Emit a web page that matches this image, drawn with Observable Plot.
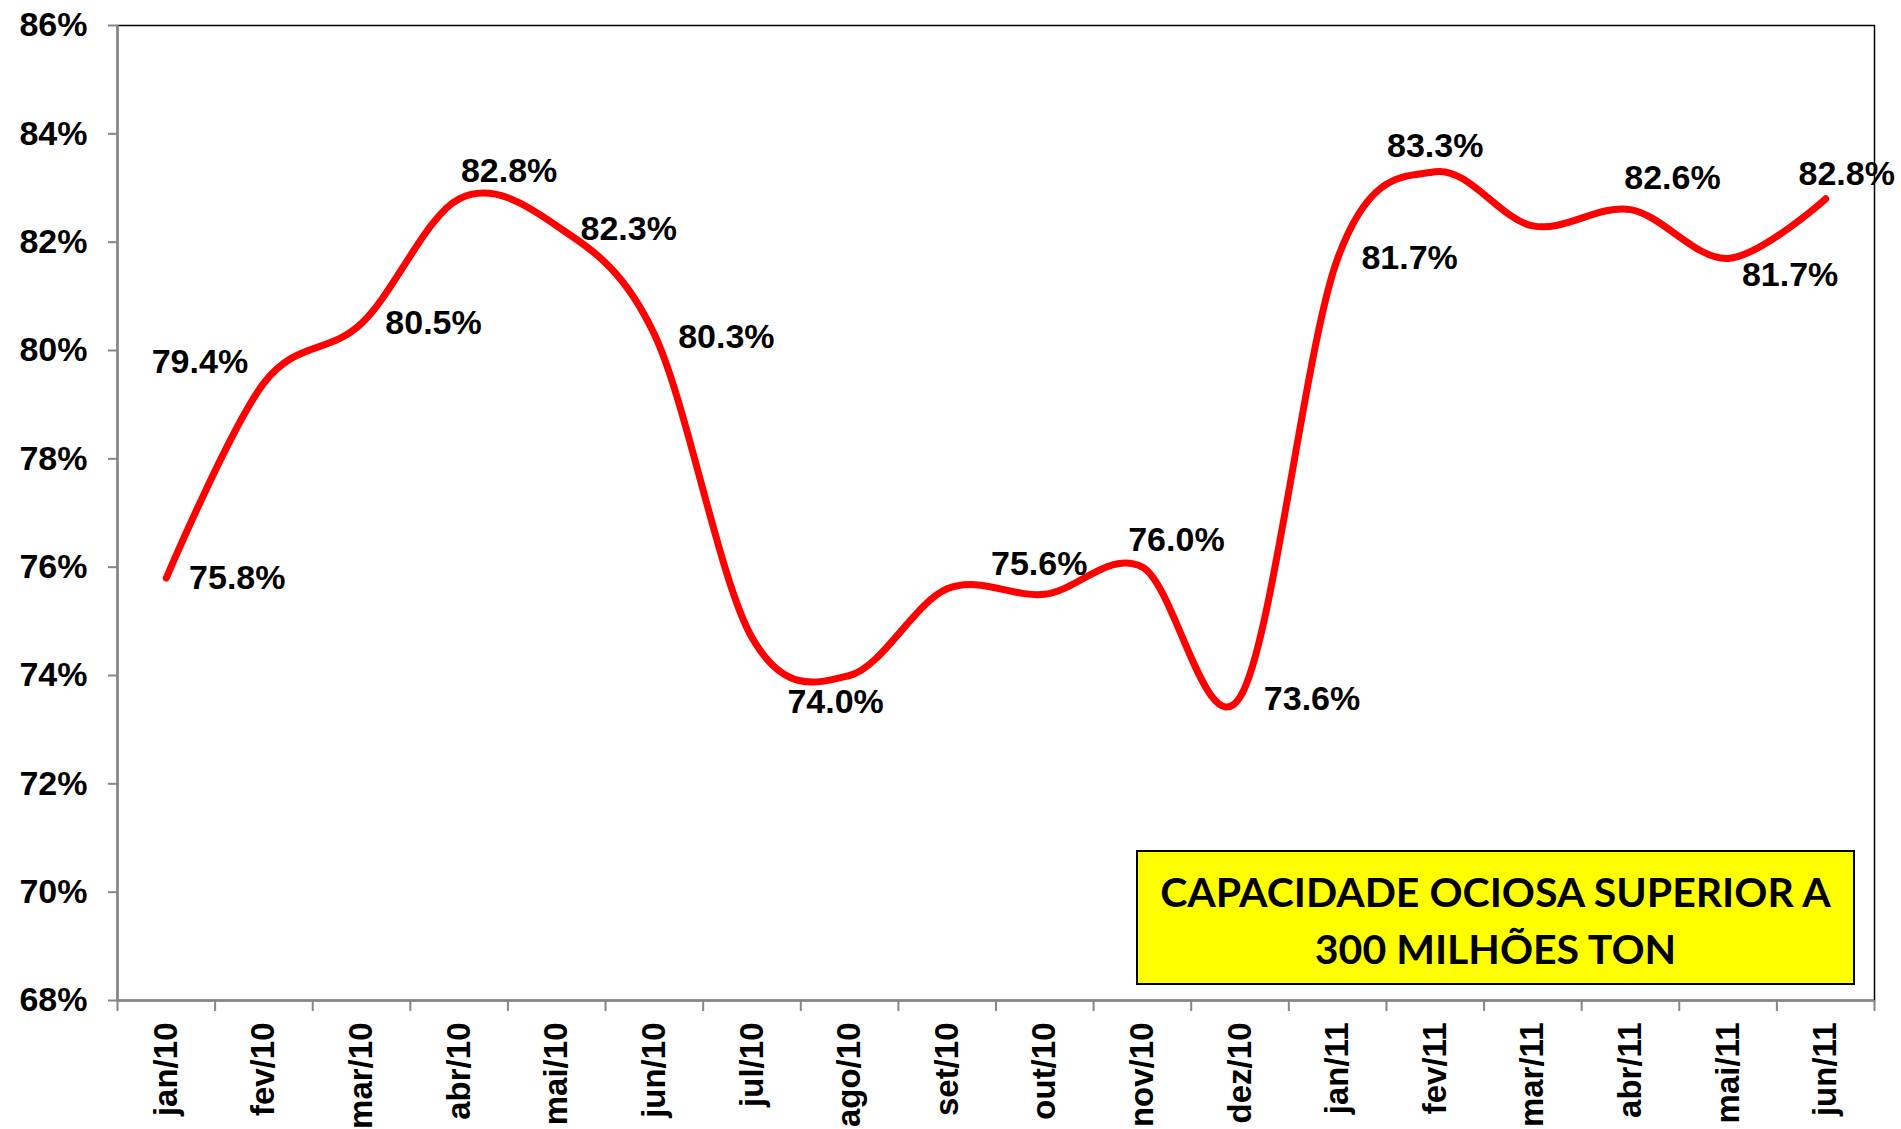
<!DOCTYPE html>
<html>
<head>
<meta charset="utf-8">
<script src="https://cdn.jsdelivr.net/npm/d3@7"></script>
<script src="https://cdn.jsdelivr.net/npm/@observablehq/plot@0.6"></script>
<style>
html, body { margin: 0; padding: 0; background: #fff; overflow: hidden; }
#wrap { position: relative; width: 1901px; height: 1129px; }
#note {
  position: absolute; left: 1136px; top: 850px; width: 719px; height: 135px;
  box-sizing: border-box; border: 2px solid #000; background: #ffff00;
  font-family: Lato, "Open Sans", sans-serif; font-weight: 700; font-size: 41px;
  line-height: 57px; text-align: center; padding-top: 11px; color: #000;
}
</style>
</head>
<body>
<div id="wrap">
  <div id="chart"></div>
  <div id="note">CAPACIDADE OCIOSA SUPERIOR A<br>300 MILHÕES TON</div>
</div>
<script>
// ---- data ----
const months = ["jan/10","fev/10","mar/10","abr/10","mai/10","jun/10","jul/10","ago/10","set/10","out/10","nov/10","dez/10","jan/11","fev/11","mar/11","abr/11","mai/11","jun/11"];
const values = [75.8, 79.4, 80.5, 82.8, 82.3, 80.3, 74.7, 74.0, 75.6, 75.5, 76.0, 73.6, 81.7, 83.3, 82.3, 82.6, 81.7, 82.8];
const labelled = [true, true, true, true, true, true, false, true, true, false, true, true, true, true, false, true, true, true];
const yTicks = [68, 70, 72, 74, 76, 78, 80, 82, 84, 86];

// label placement (style, not data)
const labelOffset = {
  "jan/10": [71, 0], "fev/10": [-64, -21], "mar/10": [72, 0], "abr/10": [50, -28],
  "mai/10": [72, 3], "jun/10": [72, 3], "ago/10": [-14, 27], "set/10": [92, -25],
  "nov/10": [34, -27], "dez/10": [72, 2], "jan/11": [72, 0], "fev/11": [0, -26],
  "abr/11": [42, -32], "mai/11": [62, 17], "jun/11": [21, -25]
};

const rows = months.map((m, i) => ({month: m, pos: i + 0.5, value: values[i], show: labelled[i]}));
const boundaries = d3.range(0, months.length + 1);
const centers = rows.map(d => d.pos);
const fmt = v => d3.format(".1f")(v) + "%";

const FONT = "'Liberation Sans', Arial, sans-serif";

const labelMarks = rows.filter(d => d.show).map(d => {
  const [dx, dy] = labelOffset[d.month] || [0, -25];
  return Plot.text([d], {x: "pos", y: "value", text: r => fmt(r.value), dx, dy,
    fontSize: 34, fontWeight: "bold", fill: "black"});
});

const chart = Plot.plot({
  width: 1901,
  height: 1129,
  marginLeft: 117,
  marginRight: 27,
  marginTop: 25,
  marginBottom: 129,
  style: {fontFamily: FONT, background: "white", color: "black"},
  x: {type: "linear", domain: [0, months.length]},
  y: {domain: [yTicks[0], yTicks[yTicks.length - 1]]},
  marks: [
    Plot.frame({stroke: "black", strokeWidth: 1.5}),
    Plot.ruleX([0], {stroke: "#868686", strokeWidth: 2.5}),
    Plot.ruleY([yTicks[0]], {stroke: "#868686", strokeWidth: 2.5}),
    Plot.axisY(yTicks, {tickSize: 9, tickPadding: 21, stroke: "#868686", strokeWidth: 2,
      tickFormat: d => d + "%", fontSize: 34, fontWeight: "bold", label: null}),
    Plot.axisX(boundaries, {tickSize: 11, stroke: "#868686", strokeWidth: 2, tickFormat: () => "", label: null}),
    Plot.axisX(centers, {tickSize: 0, tickPadding: 22, tickRotate: -90,
      tickFormat: p => months[Math.round(p - 0.5)], fontSize: 33, fontWeight: "bold", label: null}),
    Plot.line(rows, {x: "pos", y: "value", curve: "cardinal", stroke: "#ff0000",
      strokeWidth: 7, strokeLinecap: "round", strokeLinejoin: "round"}),
    ...labelMarks
  ]
});
document.getElementById("chart").appendChild(chart);
</script>
</body>
</html>
